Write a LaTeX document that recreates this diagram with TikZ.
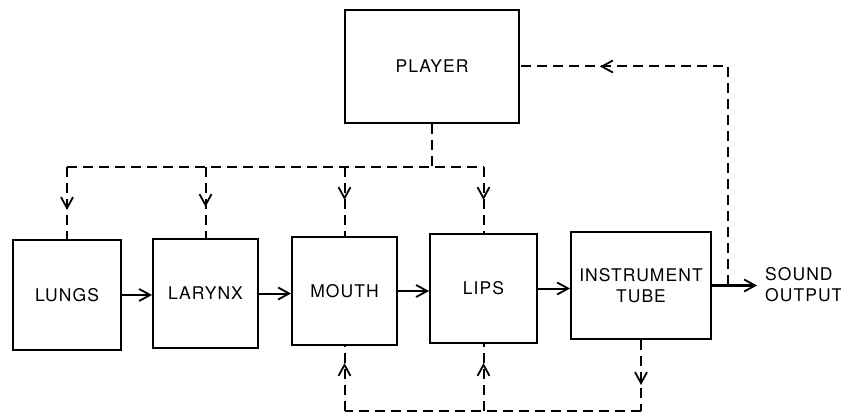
\documentclass[tikz,border=0pt]{standalone}
\usepackage{fontspec}
\setmainfont{TeX Gyre Heros}[LetterSpace=6]
\usetikzlibrary{arrows.meta,decorations.markings}
\begin{document}
\begin{tikzpicture}[x=1pt,y=-1pt,
  >={Straight Barb[length=11pt,width=12pt,line width=1.8pt]},
  blk/.style={draw,line width=2pt,inner sep=0pt,align=center,
    font=\fontsize{17.5}{21}\selectfont},
  lbl/.style={inner sep=0pt,align=left,font=\fontsize{17.5}{21}\selectfont},
  sig/.style={line width=2pt,->},
  fb/.style={line width=2pt,dash pattern=on 10pt off 6pt},
  arrowat/.style={postaction={decorate,decoration={markings,mark=at position #1 with {\arrow{>}}}}}]
\useasboundingbox (0,0) rectangle (841,414);
% blocks
\node[blk,minimum width=174pt,minimum height=113pt] (player) at (432,66.5) {PLAYER};
\node[blk,minimum width=108pt,minimum height=110pt] (lungs) at (67,295) {LUNGS};
\node[blk,minimum width=105pt,minimum height=109pt] (larynx) at (205.5,293.5) {LARYNX};
\node[blk,minimum width=105pt,minimum height=108pt] (mouth) at (344.5,291) {MOUTH};
\node[blk,minimum width=107pt,minimum height=109pt] (lips) at (483.5,288.5) {LIPS};
\node[blk,minimum width=140pt,minimum height=107pt] (tube) at (641,285.5) {INSTRUMENT\\TUBE};
% forward signal path
\draw[sig] (lungs.east) -- (lungs.east -| larynx.west);
\draw[sig] (larynx.east) -- (larynx.east -| mouth.west);
\draw[sig] (mouth.east) -- (mouth.east -| lips.west);
\draw[sig] (lips.east) -- (lips.east -| tube.west);
\coordinate (out) at (757,285.5);
\coordinate (tap) at (728,285.5);
\draw[sig] (tube.east) -- (out);
\node[lbl,anchor=west] (sound) at (765,285) {SOUND\\OUTPUT};
% feedback to player
\coordinate (tr) at (728,66.5);
\draw[fb,arrowat=347pt] (tap) -- (tr) -- (player.east);
% player control bus
\coordinate (bus) at (432,167);
\draw[fb] (player.south) -- (bus);
\draw[fb] (lungs.north |- bus) -- (lips.north |- bus);
\draw[fb,arrowat=43pt] (lungs.north |- bus) -- (lungs.north);
\draw[fb,arrowat=40pt] (larynx.north |- bus) -- (larynx.north);
\draw[fb,arrowat=33pt] (mouth.north |- bus) -- (mouth.north);
\draw[fb,arrowat=33pt] (lips.north |- bus) -- (lips.north);
% bottom feedback from tube
\coordinate (bot) at (641,411);
\draw[fb,arrowat=45pt] (tube.south) -- (bot);
\draw[fb] (bot) -- (mouth.south |- bot);
\draw[fb,arrowat=48pt] (mouth.south |- bot) -- (mouth.south);
\draw[fb,arrowat=48pt] (lips.south |- bot) -- (lips.south);
\end{tikzpicture}
\end{document}
